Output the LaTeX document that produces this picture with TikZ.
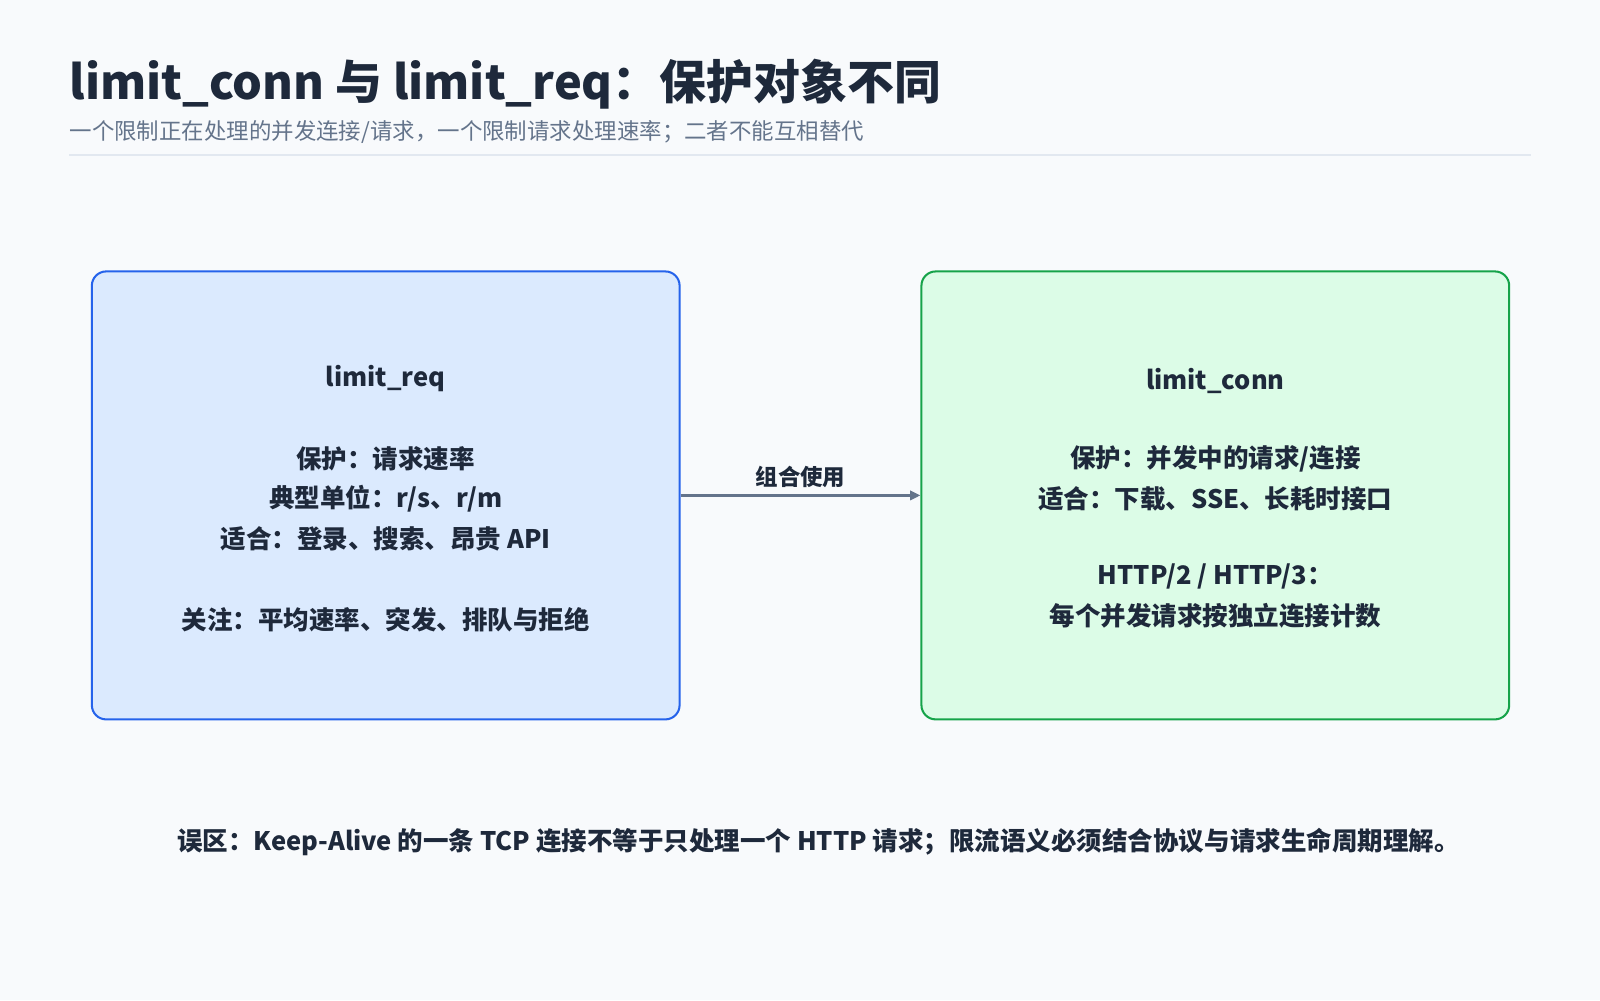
\documentclass[tikz,border=0pt]{standalone}
\usepackage{fontspec}
\setmainfont{Noto Sans CJK SC}
\usetikzlibrary{arrows.meta}
\definecolor{bg}{HTML}{F8FAFC}
\definecolor{ttl}{HTML}{1E293B}
\definecolor{sub}{HTML}{64748B}
\definecolor{rule}{HTML}{E2E8F0}
\definecolor{bfill}{HTML}{DBEAFE}
\definecolor{bdraw}{HTML}{2563EB}
\definecolor{gfill}{HTML}{DCFCE7}
\definecolor{gdraw}{HTML}{16A34A}
\tikzset{
 box/.style={rounded corners=14pt, line width=2pt, minimum width=576pt, minimum height=439pt},
 txt/.style={font=\fontsize{25}{30}\selectfont\bfseries, text=ttl, inner sep=0pt},
}
\begin{document}
\begin{tikzpicture}[x=1pt,y=-1pt]
\fill[bg] (0,0) rectangle (1568,980);
\useasboundingbox (0,0) rectangle (1568,980);
\node[anchor=west, inner sep=0pt, text=ttl, font=\fontsize{46}{52}\selectfont\bfseries] (title) at (68,82) {limit\_conn 与 limit\_req：保护对象不同};
\node[anchor=west, inner sep=0pt, text=sub, font=\fontsize{22}{26}\selectfont] (subt) at (68,129) {一个限制正在处理的并发连接/请求，一个限制请求处理速率；二者不能互相替代};
\draw[rule, line width=2pt] (68,152) -- (1500,152);
\node[box, draw=bdraw, fill=bfill] (L) at (378,485.5) {};
\node[box, draw=gdraw, fill=gfill] (R) at (1191,485.5) {};
\node[txt] (l1) at (378,371) {limit\_req};
\node[txt] (l2) at (378,450) {保护：请求速率};
\node[txt] (l3) at (378,489) {典型单位：r/s、r/m};
\node[txt] (l4) at (378,528) {适合：登录、搜索、昂贵 API};
\node[txt] (l5) at (378,607) {关注：平均速率、突发、排队与拒绝};
\node[txt] (r1) at (1191,373) {limit\_conn};
\node[txt] (r2) at (1191,450) {保护：并发中的请求/连接};
\node[txt] (r3) at (1191,489) {适合：下载、SSE、长耗时接口};
\node[txt] (r4) at (1191,565) {HTTP/2 / HTTP/3：};
\node[txt] (r5) at (1191,603) {每个并发请求按独立连接计数};
\draw[sub, line width=2.5pt, -{Triangle[length=10pt,width=9pt]}] (L.east) -- (R.east -| R.west) node[midway, above=6pt, txt, font=\fontsize{22}{26}\selectfont\bfseries] (lab) {组合使用};
\node[txt] (foot) at (802,825) {误区：Keep-Alive 的一条 TCP 连接不等于只处理一个 HTTP 请求；限流语义必须结合协议与请求生命周期理解。};
\end{tikzpicture}
\end{document}
